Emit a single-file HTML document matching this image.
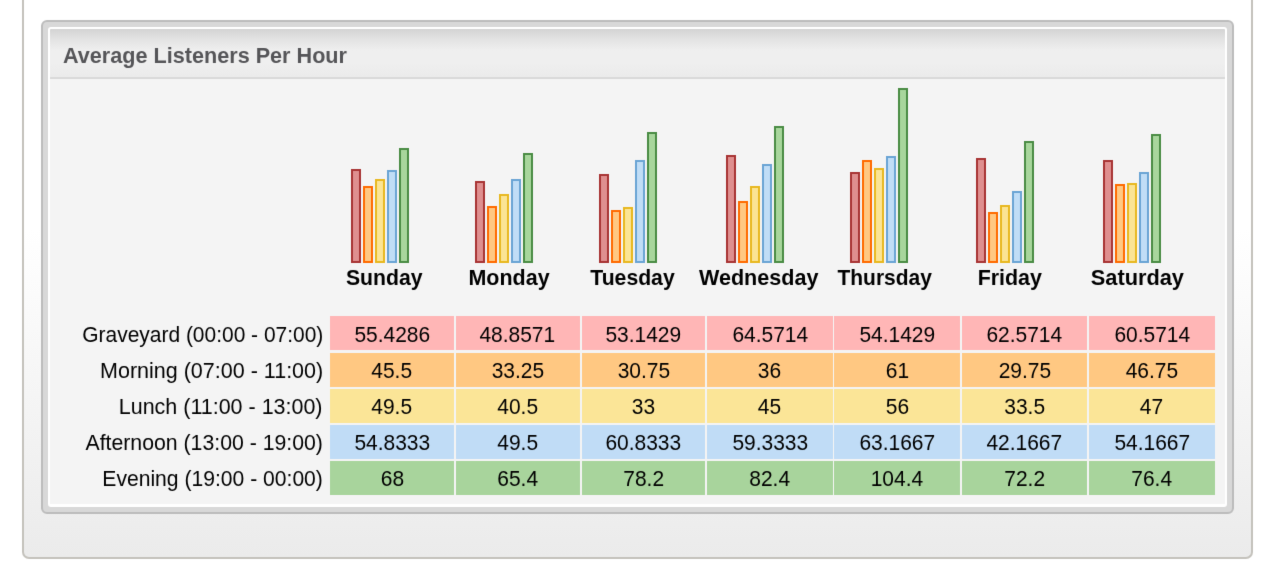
<!DOCTYPE html>
<html><head><meta charset="utf-8">
<style>
html,body{margin:0;padding:0;width:1280px;height:588px;overflow:hidden;background:#fff;}
body{position:relative;font-family:"Liberation Sans",sans-serif;}
#wrap{position:absolute;left:0;top:0;width:1280px;height:588px;filter:url(#soft);}
#outer{position:absolute;left:22px;top:-10px;width:1227px;height:567px;border:2px solid #c4c2bc;border-top:none;border-radius:0 0 7px 7px;
 background:linear-gradient(to bottom,#ffffff 0px,#ffffff 240px,#ebebeb 567px);}
#panel{position:absolute;left:41px;top:20px;width:1189px;height:490px;border-radius:6px;
 background:#d8d8d8;border:2px solid #bcbcbc;}
#inner{position:absolute;left:5px;top:5px;right:5px;bottom:5px;background:#f4f4f4;border:2px solid #fff;border-bottom-width:3px;border-radius:3px;overflow:hidden}
#hdr{position:absolute;left:0;top:0;right:0;height:48px;background:linear-gradient(to bottom,#d3d3d3 0%,#e3e3e3 22%,#efefef 45%,#efefef 70%,#ebebeb 100%);border-bottom:2px solid #d9d9d9;}
.t{position:absolute;white-space:nowrap;line-height:40px;height:40px;}
.t span{display:inline-block;}
#title{left:63px;font-weight:bold;color:#555558;}
.bar{position:absolute;width:10.12px;box-sizing:border-box;border:2px solid;}
.r{background:#df8f8f;border-color:#a83434;}
.o{background:#ffc882;border-color:#ff6a00;}
.y{background:#fbe494;border-color:#e8b820;}
.b{background:#c0ddf6;border-color:#6aa4d4;}
.g{background:#a8d69c;border-color:#4a8c44;}
.day{width:200px;text-align:center;font-weight:bold;color:#000;}
.lbl{left:0;width:323px;color:#000;text-align:right}
.cell{position:absolute;height:34.3px;}
.ct{width:200px;text-align:center;color:#000;}
.cr{background:#ffb6b6}.co{background:#ffc882}.cy{background:#fbe597}.cb{background:#c0dcf6}.cg{background:#a8d49c}
</style></head><body>
<svg width="0" height="0" style="position:absolute"><filter id="soft" x="0" y="0" width="100%" height="100%" color-interpolation-filters="sRGB"><feConvolveMatrix order="3" kernelMatrix="0 1 0 1 8 1 0 1 0" divisor="12" edgeMode="duplicate"/></filter></svg>
<div id="wrap">
<div id="outer"></div>
<div id="panel"><div id="inner"><div id="hdr"></div></div></div>
<div id="title" class="t" style="top:36.27px;font-size:22.3px"><span style="transform:scaleX(0.969687430512845);transform-origin:0 50%">Average Listeners Per Hour</span></div>
<div class="bar r" style="left:350.95px;top:168.50px;height:94.30px"></div>
<div class="bar o" style="left:362.97px;top:185.70px;height:77.10px"></div>
<div class="bar y" style="left:374.99px;top:178.80px;height:84.00px"></div>
<div class="bar b" style="left:387.01px;top:169.90px;height:92.90px"></div>
<div class="bar g" style="left:399.03px;top:147.95px;height:114.85px"></div>
<div class="t day" style="left:284.75px;top:257.85px;font-size:21.2px"><span style="transform:scaleX(1.0003013491541002)">Sunday</span></div>
<div class="bar r" style="left:475.10px;top:180.50px;height:82.30px"></div>
<div class="bar o" style="left:487.12px;top:206.20px;height:56.60px"></div>
<div class="bar y" style="left:499.14px;top:194.00px;height:68.80px"></div>
<div class="bar b" style="left:511.16px;top:179.00px;height:83.80px"></div>
<div class="bar g" style="left:523.18px;top:153.10px;height:109.70px"></div>
<div class="t day" style="left:409.00px;top:257.85px;font-size:21.2px"><span style="transform:scaleX(1.0129747577290624)">Monday</span></div>
<div class="bar r" style="left:599.05px;top:174.00px;height:88.80px"></div>
<div class="bar o" style="left:611.07px;top:210.00px;height:52.80px"></div>
<div class="bar y" style="left:623.09px;top:206.50px;height:56.30px"></div>
<div class="bar b" style="left:635.11px;top:160.20px;height:102.60px"></div>
<div class="bar g" style="left:647.13px;top:132.35px;height:130.45px"></div>
<div class="t day" style="left:532.50px;top:257.85px;font-size:21.2px"><span style="transform:scaleX(1.0)">Tuesday</span></div>
<div class="bar r" style="left:726.10px;top:154.90px;height:107.90px"></div>
<div class="bar o" style="left:738.12px;top:201.40px;height:61.40px"></div>
<div class="bar y" style="left:750.14px;top:185.80px;height:77.00px"></div>
<div class="bar b" style="left:762.16px;top:163.50px;height:99.30px"></div>
<div class="bar g" style="left:774.18px;top:125.80px;height:137.00px"></div>
<div class="t day" style="left:658.50px;top:257.85px;font-size:21.2px"><span style="transform:scaleX(1.017094017094017)">Wednesday</span></div>
<div class="bar r" style="left:850.20px;top:172.00px;height:90.80px"></div>
<div class="bar o" style="left:862.22px;top:160.20px;height:102.60px"></div>
<div class="bar y" style="left:874.24px;top:168.20px;height:94.60px"></div>
<div class="bar b" style="left:886.26px;top:156.40px;height:106.40px"></div>
<div class="bar g" style="left:898.28px;top:87.90px;height:174.90px"></div>
<div class="t day" style="left:785.00px;top:257.85px;font-size:21.2px"><span style="transform:scaleX(0.9896953405017919)">Thursday</span></div>
<div class="bar r" style="left:975.70px;top:158.30px;height:104.50px"></div>
<div class="bar o" style="left:987.72px;top:211.90px;height:50.90px"></div>
<div class="bar y" style="left:999.74px;top:205.00px;height:57.80px"></div>
<div class="bar b" style="left:1011.76px;top:191.30px;height:71.50px"></div>
<div class="bar g" style="left:1023.78px;top:141.20px;height:121.60px"></div>
<div class="t day" style="left:910.20px;top:257.85px;font-size:21.2px"><span style="transform:scaleX(1.0104216490737963)">Friday</span></div>
<div class="bar r" style="left:1103.10px;top:160.10px;height:102.70px"></div>
<div class="bar o" style="left:1115.12px;top:184.20px;height:78.60px"></div>
<div class="bar y" style="left:1127.14px;top:182.50px;height:80.30px"></div>
<div class="bar b" style="left:1139.16px;top:172.30px;height:90.50px"></div>
<div class="bar g" style="left:1151.18px;top:134.20px;height:128.60px"></div>
<div class="t day" style="left:1037.00px;top:257.85px;font-size:21.2px"><span style="transform:scaleX(1.0268600372263952)">Saturday</span></div>
<div class="t lbl" style="top:314.71px;font-size:22.2px;width:323px"><span style="transform:scaleX(0.944);transform-origin:100% 50%">Graveyard (00:00 - 07:00)</span></div>
<div class="cell cr" style="left:330.00px;top:316.10px;width:124.00px"></div>
<div class="t ct" style="left:292.00px;top:314.77px;font-size:22.3px"><span style="transform:scaleX(0.94)">55.4286</span></div>
<div class="cell cr" style="left:455.80px;top:316.10px;width:124.00px"></div>
<div class="t ct" style="left:417.80px;top:314.77px;font-size:22.3px"><span style="transform:scaleX(0.94)">48.8571</span></div>
<div class="cell cr" style="left:581.60px;top:316.10px;width:123.65px"></div>
<div class="t ct" style="left:543.42px;top:314.77px;font-size:22.3px"><span style="transform:scaleX(0.94)">53.1429</span></div>
<div class="cell cr" style="left:707.05px;top:316.10px;width:125.55px"></div>
<div class="t ct" style="left:669.83px;top:314.77px;font-size:22.3px"><span style="transform:scaleX(0.94)">64.5714</span></div>
<div class="cell cr" style="left:834.40px;top:316.10px;width:125.60px"></div>
<div class="t ct" style="left:797.20px;top:314.77px;font-size:22.3px"><span style="transform:scaleX(0.94)">54.1429</span></div>
<div class="cell cr" style="left:961.80px;top:316.10px;width:125.40px"></div>
<div class="t ct" style="left:924.50px;top:314.77px;font-size:22.3px"><span style="transform:scaleX(0.94)">62.5714</span></div>
<div class="cell cr" style="left:1089.00px;top:316.10px;width:125.80px"></div>
<div class="t ct" style="left:1051.90px;top:314.77px;font-size:22.3px"><span style="transform:scaleX(0.94)">60.5714</span></div>
<div class="t lbl" style="top:351.21px;font-size:22.2px;width:323px"><span style="transform:scaleX(0.9696402714450216);transform-origin:100% 50%">Morning (07:00 - 11:00)</span></div>
<div class="cell co" style="left:330.00px;top:352.60px;width:124.00px"></div>
<div class="t ct" style="left:292.00px;top:351.27px;font-size:22.3px"><span style="transform:scaleX(0.94)">45.5</span></div>
<div class="cell co" style="left:455.80px;top:352.60px;width:124.00px"></div>
<div class="t ct" style="left:417.80px;top:351.27px;font-size:22.3px"><span style="transform:scaleX(0.94)">33.25</span></div>
<div class="cell co" style="left:581.60px;top:352.60px;width:123.65px"></div>
<div class="t ct" style="left:543.42px;top:351.27px;font-size:22.3px"><span style="transform:scaleX(0.94)">30.75</span></div>
<div class="cell co" style="left:707.05px;top:352.60px;width:125.55px"></div>
<div class="t ct" style="left:669.83px;top:351.27px;font-size:22.3px"><span style="transform:scaleX(0.94)">36</span></div>
<div class="cell co" style="left:834.40px;top:352.60px;width:125.60px"></div>
<div class="t ct" style="left:797.20px;top:351.27px;font-size:22.3px"><span style="transform:scaleX(0.94)">61</span></div>
<div class="cell co" style="left:961.80px;top:352.60px;width:125.40px"></div>
<div class="t ct" style="left:924.50px;top:351.27px;font-size:22.3px"><span style="transform:scaleX(0.94)">29.75</span></div>
<div class="cell co" style="left:1089.00px;top:352.60px;width:125.80px"></div>
<div class="t ct" style="left:1051.90px;top:351.27px;font-size:22.3px"><span style="transform:scaleX(0.94)">46.75</span></div>
<div class="t lbl" style="top:387.11px;font-size:22.2px;width:323px"><span style="transform:scaleX(0.9677222134682409);transform-origin:100% 50%">Lunch (11:00 - 13:00)</span></div>
<div class="cell cy" style="left:330.00px;top:388.50px;width:124.00px"></div>
<div class="t ct" style="left:292.00px;top:387.17px;font-size:22.3px"><span style="transform:scaleX(0.94)">49.5</span></div>
<div class="cell cy" style="left:455.80px;top:388.50px;width:124.00px"></div>
<div class="t ct" style="left:417.80px;top:387.17px;font-size:22.3px"><span style="transform:scaleX(0.94)">40.5</span></div>
<div class="cell cy" style="left:581.60px;top:388.50px;width:123.65px"></div>
<div class="t ct" style="left:543.42px;top:387.17px;font-size:22.3px"><span style="transform:scaleX(0.94)">33</span></div>
<div class="cell cy" style="left:707.05px;top:388.50px;width:125.55px"></div>
<div class="t ct" style="left:669.83px;top:387.17px;font-size:22.3px"><span style="transform:scaleX(0.94)">45</span></div>
<div class="cell cy" style="left:834.40px;top:388.50px;width:125.60px"></div>
<div class="t ct" style="left:797.20px;top:387.17px;font-size:22.3px"><span style="transform:scaleX(0.94)">56</span></div>
<div class="cell cy" style="left:961.80px;top:388.50px;width:125.40px"></div>
<div class="t ct" style="left:924.50px;top:387.17px;font-size:22.3px"><span style="transform:scaleX(0.94)">33.5</span></div>
<div class="cell cy" style="left:1089.00px;top:388.50px;width:125.80px"></div>
<div class="t ct" style="left:1051.90px;top:387.17px;font-size:22.3px"><span style="transform:scaleX(0.94)">47</span></div>
<div class="t lbl" style="top:423.21px;font-size:22.2px;width:323px"><span style="transform:scaleX(0.9578178725814571);transform-origin:100% 50%">Afternoon (13:00 - 19:00)</span></div>
<div class="cell cb" style="left:330.00px;top:424.60px;width:124.00px"></div>
<div class="t ct" style="left:292.00px;top:423.27px;font-size:22.3px"><span style="transform:scaleX(0.94)">54.8333</span></div>
<div class="cell cb" style="left:455.80px;top:424.60px;width:124.00px"></div>
<div class="t ct" style="left:417.80px;top:423.27px;font-size:22.3px"><span style="transform:scaleX(0.94)">49.5</span></div>
<div class="cell cb" style="left:581.60px;top:424.60px;width:123.65px"></div>
<div class="t ct" style="left:543.42px;top:423.27px;font-size:22.3px"><span style="transform:scaleX(0.94)">60.8333</span></div>
<div class="cell cb" style="left:707.05px;top:424.60px;width:125.55px"></div>
<div class="t ct" style="left:669.83px;top:423.27px;font-size:22.3px"><span style="transform:scaleX(0.94)">59.3333</span></div>
<div class="cell cb" style="left:834.40px;top:424.60px;width:125.60px"></div>
<div class="t ct" style="left:797.20px;top:423.27px;font-size:22.3px"><span style="transform:scaleX(0.94)">63.1667</span></div>
<div class="cell cb" style="left:961.80px;top:424.60px;width:125.40px"></div>
<div class="t ct" style="left:924.50px;top:423.27px;font-size:22.3px"><span style="transform:scaleX(0.94)">42.1667</span></div>
<div class="cell cb" style="left:1089.00px;top:424.60px;width:125.80px"></div>
<div class="t ct" style="left:1051.90px;top:423.27px;font-size:22.3px"><span style="transform:scaleX(0.94)">54.1667</span></div>
<div class="t lbl" style="top:459.11px;font-size:22.2px;width:323px"><span style="transform:scaleX(0.951134640463472);transform-origin:100% 50%">Evening (19:00 - 00:00)</span></div>
<div class="cell cg" style="left:330.00px;top:460.50px;width:124.00px"></div>
<div class="t ct" style="left:292.00px;top:459.17px;font-size:22.3px"><span style="transform:scaleX(0.94)">68</span></div>
<div class="cell cg" style="left:455.80px;top:460.50px;width:124.00px"></div>
<div class="t ct" style="left:417.80px;top:459.17px;font-size:22.3px"><span style="transform:scaleX(0.94)">65.4</span></div>
<div class="cell cg" style="left:581.60px;top:460.50px;width:123.65px"></div>
<div class="t ct" style="left:543.42px;top:459.17px;font-size:22.3px"><span style="transform:scaleX(0.94)">78.2</span></div>
<div class="cell cg" style="left:707.05px;top:460.50px;width:125.55px"></div>
<div class="t ct" style="left:669.83px;top:459.17px;font-size:22.3px"><span style="transform:scaleX(0.94)">82.4</span></div>
<div class="cell cg" style="left:834.40px;top:460.50px;width:125.60px"></div>
<div class="t ct" style="left:797.20px;top:459.17px;font-size:22.3px"><span style="transform:scaleX(0.94)">104.4</span></div>
<div class="cell cg" style="left:961.80px;top:460.50px;width:125.40px"></div>
<div class="t ct" style="left:924.50px;top:459.17px;font-size:22.3px"><span style="transform:scaleX(0.94)">72.2</span></div>
<div class="cell cg" style="left:1089.00px;top:460.50px;width:125.80px"></div>
<div class="t ct" style="left:1051.90px;top:459.17px;font-size:22.3px"><span style="transform:scaleX(0.94)">76.4</span></div>
</div>
</body></html>
